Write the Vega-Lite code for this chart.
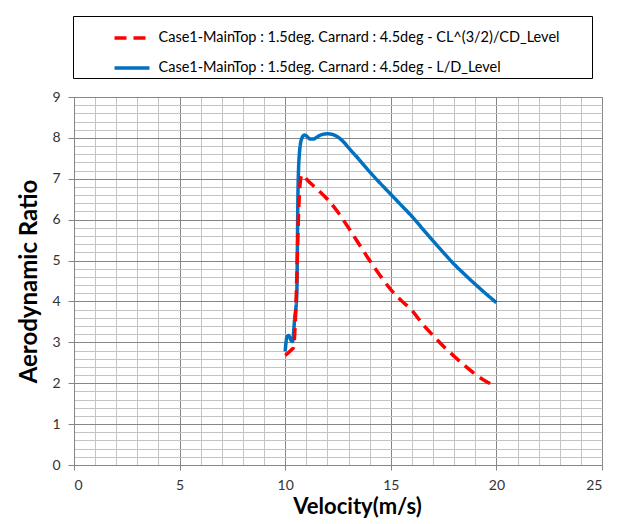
{
  "$schema": "https://vega.github.io/schema/vega-lite/v6.json",
  "width": 528,
  "height": 368,
  "autosize": "none",
  "padding": {"left": 74, "top": 97, "right": 30, "bottom": 59},
  "background": "white",
  "config": {
    "view": {"stroke": null},
    "font": "Lato"
  },
  "data": {
    "values": [
      {"series": "Case1-MainTop : 1.5deg. Carnard : 4.5deg - L/D_Level", "v": 10.0, "r": 2.78},
      {"series": "Case1-MainTop : 1.5deg. Carnard : 4.5deg - L/D_Level", "v": 10.05, "r": 3.05},
      {"series": "Case1-MainTop : 1.5deg. Carnard : 4.5deg - L/D_Level", "v": 10.1, "r": 3.15},
      {"series": "Case1-MainTop : 1.5deg. Carnard : 4.5deg - L/D_Level", "v": 10.15, "r": 3.17},
      {"series": "Case1-MainTop : 1.5deg. Carnard : 4.5deg - L/D_Level", "v": 10.22, "r": 3.12},
      {"series": "Case1-MainTop : 1.5deg. Carnard : 4.5deg - L/D_Level", "v": 10.3, "r": 3.03},
      {"series": "Case1-MainTop : 1.5deg. Carnard : 4.5deg - L/D_Level", "v": 10.35, "r": 3.02},
      {"series": "Case1-MainTop : 1.5deg. Carnard : 4.5deg - L/D_Level", "v": 10.4, "r": 3.25},
      {"series": "Case1-MainTop : 1.5deg. Carnard : 4.5deg - L/D_Level", "v": 10.45, "r": 3.6},
      {"series": "Case1-MainTop : 1.5deg. Carnard : 4.5deg - L/D_Level", "v": 10.5, "r": 3.8},
      {"series": "Case1-MainTop : 1.5deg. Carnard : 4.5deg - L/D_Level", "v": 10.55, "r": 4.2},
      {"series": "Case1-MainTop : 1.5deg. Carnard : 4.5deg - L/D_Level", "v": 10.58, "r": 5.5},
      {"series": "Case1-MainTop : 1.5deg. Carnard : 4.5deg - L/D_Level", "v": 10.6, "r": 6.5},
      {"series": "Case1-MainTop : 1.5deg. Carnard : 4.5deg - L/D_Level", "v": 10.63, "r": 7.2},
      {"series": "Case1-MainTop : 1.5deg. Carnard : 4.5deg - L/D_Level", "v": 10.67, "r": 7.6},
      {"series": "Case1-MainTop : 1.5deg. Carnard : 4.5deg - L/D_Level", "v": 10.72, "r": 7.85},
      {"series": "Case1-MainTop : 1.5deg. Carnard : 4.5deg - L/D_Level", "v": 10.78, "r": 7.98},
      {"series": "Case1-MainTop : 1.5deg. Carnard : 4.5deg - L/D_Level", "v": 10.85, "r": 8.05},
      {"series": "Case1-MainTop : 1.5deg. Carnard : 4.5deg - L/D_Level", "v": 10.92, "r": 8.07},
      {"series": "Case1-MainTop : 1.5deg. Carnard : 4.5deg - L/D_Level", "v": 11.0, "r": 8.05},
      {"series": "Case1-MainTop : 1.5deg. Carnard : 4.5deg - L/D_Level", "v": 11.1, "r": 8.0},
      {"series": "Case1-MainTop : 1.5deg. Carnard : 4.5deg - L/D_Level", "v": 11.2, "r": 7.97},
      {"series": "Case1-MainTop : 1.5deg. Carnard : 4.5deg - L/D_Level", "v": 11.3, "r": 7.97},
      {"series": "Case1-MainTop : 1.5deg. Carnard : 4.5deg - L/D_Level", "v": 11.45, "r": 8.0},
      {"series": "Case1-MainTop : 1.5deg. Carnard : 4.5deg - L/D_Level", "v": 11.6, "r": 8.05},
      {"series": "Case1-MainTop : 1.5deg. Carnard : 4.5deg - L/D_Level", "v": 11.8, "r": 8.09},
      {"series": "Case1-MainTop : 1.5deg. Carnard : 4.5deg - L/D_Level", "v": 12.0, "r": 8.1},
      {"series": "Case1-MainTop : 1.5deg. Carnard : 4.5deg - L/D_Level", "v": 12.2, "r": 8.09},
      {"series": "Case1-MainTop : 1.5deg. Carnard : 4.5deg - L/D_Level", "v": 12.4, "r": 8.05},
      {"series": "Case1-MainTop : 1.5deg. Carnard : 4.5deg - L/D_Level", "v": 12.6, "r": 7.98},
      {"series": "Case1-MainTop : 1.5deg. Carnard : 4.5deg - L/D_Level", "v": 12.8, "r": 7.88},
      {"series": "Case1-MainTop : 1.5deg. Carnard : 4.5deg - L/D_Level", "v": 13.0, "r": 7.76},
      {"series": "Case1-MainTop : 1.5deg. Carnard : 4.5deg - L/D_Level", "v": 13.5, "r": 7.47},
      {"series": "Case1-MainTop : 1.5deg. Carnard : 4.5deg - L/D_Level", "v": 14.0, "r": 7.17},
      {"series": "Case1-MainTop : 1.5deg. Carnard : 4.5deg - L/D_Level", "v": 14.5, "r": 6.89},
      {"series": "Case1-MainTop : 1.5deg. Carnard : 4.5deg - L/D_Level", "v": 15.0, "r": 6.62},
      {"series": "Case1-MainTop : 1.5deg. Carnard : 4.5deg - L/D_Level", "v": 15.5, "r": 6.35},
      {"series": "Case1-MainTop : 1.5deg. Carnard : 4.5deg - L/D_Level", "v": 16.0, "r": 6.08},
      {"series": "Case1-MainTop : 1.5deg. Carnard : 4.5deg - L/D_Level", "v": 16.5, "r": 5.78},
      {"series": "Case1-MainTop : 1.5deg. Carnard : 4.5deg - L/D_Level", "v": 17.0, "r": 5.48},
      {"series": "Case1-MainTop : 1.5deg. Carnard : 4.5deg - L/D_Level", "v": 17.5, "r": 5.19},
      {"series": "Case1-MainTop : 1.5deg. Carnard : 4.5deg - L/D_Level", "v": 18.0, "r": 4.91},
      {"series": "Case1-MainTop : 1.5deg. Carnard : 4.5deg - L/D_Level", "v": 18.5, "r": 4.66},
      {"series": "Case1-MainTop : 1.5deg. Carnard : 4.5deg - L/D_Level", "v": 19.0, "r": 4.42},
      {"series": "Case1-MainTop : 1.5deg. Carnard : 4.5deg - L/D_Level", "v": 19.5, "r": 4.19},
      {"series": "Case1-MainTop : 1.5deg. Carnard : 4.5deg - L/D_Level", "v": 20.0, "r": 3.97},
      {"series": "Case1-MainTop : 1.5deg. Carnard : 4.5deg - CL^(3/2)/CD_Level", "v": 10.0, "r": 2.68},
      {"series": "Case1-MainTop : 1.5deg. Carnard : 4.5deg - CL^(3/2)/CD_Level", "v": 10.1, "r": 2.72},
      {"series": "Case1-MainTop : 1.5deg. Carnard : 4.5deg - CL^(3/2)/CD_Level", "v": 10.2, "r": 2.77},
      {"series": "Case1-MainTop : 1.5deg. Carnard : 4.5deg - CL^(3/2)/CD_Level", "v": 10.3, "r": 2.82},
      {"series": "Case1-MainTop : 1.5deg. Carnard : 4.5deg - CL^(3/2)/CD_Level", "v": 10.38, "r": 2.86},
      {"series": "Case1-MainTop : 1.5deg. Carnard : 4.5deg - CL^(3/2)/CD_Level", "v": 10.45, "r": 3.2},
      {"series": "Case1-MainTop : 1.5deg. Carnard : 4.5deg - CL^(3/2)/CD_Level", "v": 10.5, "r": 3.8},
      {"series": "Case1-MainTop : 1.5deg. Carnard : 4.5deg - CL^(3/2)/CD_Level", "v": 10.55, "r": 4.6},
      {"series": "Case1-MainTop : 1.5deg. Carnard : 4.5deg - CL^(3/2)/CD_Level", "v": 10.6, "r": 5.6},
      {"series": "Case1-MainTop : 1.5deg. Carnard : 4.5deg - CL^(3/2)/CD_Level", "v": 10.65, "r": 6.4},
      {"series": "Case1-MainTop : 1.5deg. Carnard : 4.5deg - CL^(3/2)/CD_Level", "v": 10.7, "r": 6.85},
      {"series": "Case1-MainTop : 1.5deg. Carnard : 4.5deg - CL^(3/2)/CD_Level", "v": 10.78, "r": 7.08},
      {"series": "Case1-MainTop : 1.5deg. Carnard : 4.5deg - CL^(3/2)/CD_Level", "v": 10.85, "r": 7.1},
      {"series": "Case1-MainTop : 1.5deg. Carnard : 4.5deg - CL^(3/2)/CD_Level", "v": 11.0, "r": 7.0},
      {"series": "Case1-MainTop : 1.5deg. Carnard : 4.5deg - CL^(3/2)/CD_Level", "v": 11.5, "r": 6.75},
      {"series": "Case1-MainTop : 1.5deg. Carnard : 4.5deg - CL^(3/2)/CD_Level", "v": 12.0, "r": 6.5},
      {"series": "Case1-MainTop : 1.5deg. Carnard : 4.5deg - CL^(3/2)/CD_Level", "v": 12.5, "r": 6.18},
      {"series": "Case1-MainTop : 1.5deg. Carnard : 4.5deg - CL^(3/2)/CD_Level", "v": 13.0, "r": 5.8},
      {"series": "Case1-MainTop : 1.5deg. Carnard : 4.5deg - CL^(3/2)/CD_Level", "v": 13.5, "r": 5.4},
      {"series": "Case1-MainTop : 1.5deg. Carnard : 4.5deg - CL^(3/2)/CD_Level", "v": 14.0, "r": 5.0},
      {"series": "Case1-MainTop : 1.5deg. Carnard : 4.5deg - CL^(3/2)/CD_Level", "v": 14.5, "r": 4.63},
      {"series": "Case1-MainTop : 1.5deg. Carnard : 4.5deg - CL^(3/2)/CD_Level", "v": 15.0, "r": 4.29},
      {"series": "Case1-MainTop : 1.5deg. Carnard : 4.5deg - CL^(3/2)/CD_Level", "v": 15.5, "r": 4.02},
      {"series": "Case1-MainTop : 1.5deg. Carnard : 4.5deg - CL^(3/2)/CD_Level", "v": 16.0, "r": 3.78},
      {"series": "Case1-MainTop : 1.5deg. Carnard : 4.5deg - CL^(3/2)/CD_Level", "v": 16.5, "r": 3.45},
      {"series": "Case1-MainTop : 1.5deg. Carnard : 4.5deg - CL^(3/2)/CD_Level", "v": 17.0, "r": 3.17},
      {"series": "Case1-MainTop : 1.5deg. Carnard : 4.5deg - CL^(3/2)/CD_Level", "v": 17.5, "r": 2.9},
      {"series": "Case1-MainTop : 1.5deg. Carnard : 4.5deg - CL^(3/2)/CD_Level", "v": 18.0, "r": 2.66},
      {"series": "Case1-MainTop : 1.5deg. Carnard : 4.5deg - CL^(3/2)/CD_Level", "v": 18.5, "r": 2.43},
      {"series": "Case1-MainTop : 1.5deg. Carnard : 4.5deg - CL^(3/2)/CD_Level", "v": 19.0, "r": 2.22},
      {"series": "Case1-MainTop : 1.5deg. Carnard : 4.5deg - CL^(3/2)/CD_Level", "v": 19.5, "r": 2.05},
      {"series": "Case1-MainTop : 1.5deg. Carnard : 4.5deg - CL^(3/2)/CD_Level", "v": 20.0, "r": 1.92}
    ]
  },
  "mark": {"type": "line", "strokeWidth": 3.5, "interpolate": "monotone"},
  "encoding": {
    "x": {
      "field": "v",
      "type": "quantitative",
      "scale": {"domain": [0, 25], "nice": false, "zero": false},
      "axis": {
        "title": "Velocity(m/s)",
        "values": [0,1,2,3,4,5,6,7,8,9,10,11,12,13,14,15,16,17,18,19,20,21,22,23,24,25],
        "labelExpr": "datum.value % 5 === 0 ? format(datum.value, 'd') : ''",
        "labelOverlap": false,
        "labelFont": "Lato",
        "labelFontSize": 14,
        "labelColor": "#333333",
        "labelPadding": 8,
        "tickSize": 5,
        "tickColor": "#868686",
        "tickOpacity": {"condition": {"test": "datum.value % 5 === 0", "value": 1}, "value": 0},
        "grid": true,
        "gridColor": {"condition": {"test": "datum.value % 5 === 0", "value": "#868686"}, "value": "#c4c4c4"},
        "gridWidth": 1,
        "domainColor": "#868686",
        "titleFont": "Lato",
        "titleFontSize": 22,
        "titleFontWeight": "bold",
        "titleColor": "#000000",
        "titleX": 283,
        "titleY": 31,
        "titleAlign": "center",
        "titleBaseline": "top"
      }
    },
    "y": {
      "field": "r",
      "type": "quantitative",
      "scale": {"domain": [0, 9], "nice": false},
      "axis": {
        "title": "Aerodynamic Ratio",
        "values": [0,0.2,0.4,0.6,0.8,1,1.2,1.4,1.6,1.8,2,2.2,2.4,2.6,2.8,3,3.2,3.4,3.6,3.8,4,4.2,4.4,4.6,4.8,5,5.2,5.4,5.6,5.8,6,6.2,6.4,6.6,6.8,7,7.2,7.4,7.6,7.8,8,8.2,8.4,8.6,8.8,9],
        "labelExpr": "datum.value % 1 === 0 ? format(datum.value, 'd') : ''",
        "labelOverlap": false,
        "labelFont": "Lato",
        "labelFontSize": 14,
        "labelColor": "#333333",
        "labelPadding": 8,
        "tickSize": 6,
        "tickColor": "#868686",
        "tickOpacity": {"condition": {"test": "datum.value % 1 === 0", "value": 1}, "value": 0},
        "grid": true,
        "gridColor": {"condition": {"test": "datum.value % 1 === 0", "value": "#868686"}, "value": "#c4c4c4"},
        "gridWidth": 1,
        "domainColor": "#868686",
        "titleFont": "Lato",
        "titleFontSize": 24,
        "titleFontWeight": "bold",
        "titleColor": "#000000",
        "titlePadding": 10
      }
    },
    "color": {
      "field": "series",
      "type": "nominal",
      "scale": {
        "domain": ["Case1-MainTop : 1.5deg. Carnard : 4.5deg - CL^(3/2)/CD_Level", "Case1-MainTop : 1.5deg. Carnard : 4.5deg - L/D_Level"],
        "range": ["#FF0000", "#0070C0"]
      },
      "legend": {
        "title": " ",
        "titleOrient": "right",
        "titlePadding": 30,
        "orient": "none",
        "legendX": -1,
        "legendY": -81,
        "strokeColor": "#000000",
        "fillColor": "#ffffff",
        "padding": 2.5,
        "symbolType": "stroke",
        "symbolSize": 1225,
        "symbolStrokeWidth": 3.5,
        "symbolOffset": 37,
        "labelFont": "Lato",
        "labelFontSize": 14.5,
        "labelColor": "#000000",
        "labelLimit": 0,
        "labelOffset": 7,
        "rowPadding": 3
      }
    },
    "strokeDash": {
      "field": "series",
      "type": "nominal",
      "scale": {
        "domain": ["Case1-MainTop : 1.5deg. Carnard : 4.5deg - CL^(3/2)/CD_Level", "Case1-MainTop : 1.5deg. Carnard : 4.5deg - L/D_Level"],
        "range": [[12, 7], [1, 0]]
      },
      "legend": {
        "title": " ",
        "titleOrient": "right",
        "titlePadding": 30,
        "orient": "none",
        "legendX": -1,
        "legendY": -81,
        "strokeColor": "#000000",
        "fillColor": "#ffffff",
        "padding": 2.5,
        "symbolType": "stroke",
        "symbolSize": 1225,
        "symbolStrokeWidth": 3.5,
        "symbolOffset": 37,
        "labelFont": "Lato",
        "labelFontSize": 14.5,
        "labelColor": "#000000",
        "labelLimit": 0,
        "labelOffset": 7,
        "rowPadding": 3
      }
    }
  }
}
